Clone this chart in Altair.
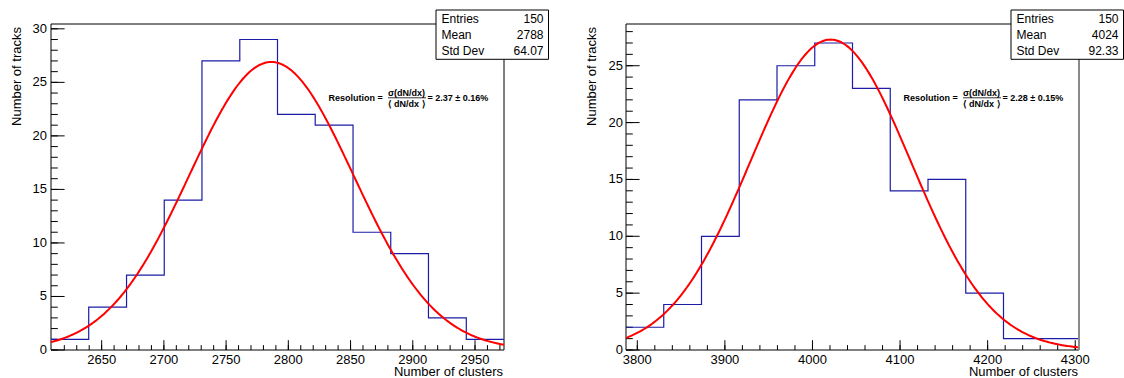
import altair as alt
import numpy as np
import pandas as pd

# ---------------- data ----------------
# Left panel
left_edges = [2609.3, 2639.6, 2670.0, 2700.3, 2730.6, 2761.0, 2791.3,
              2821.6, 2852.0, 2882.3, 2912.6, 2943.0, 2973.3]
left_counts = [1, 4, 7, 14, 27, 29, 22, 21, 11, 9, 3, 1]
left_fit = {"constant": 26.9, "mean": 2786.4, "sigma": 66.0}
left_ymax = 30.45
left_stats = [("Entries", "150"), ("Mean", "2788"), ("Std Dev", "64.07")]
left_result = "= 2.37 \u00b1 0.16%"
left_x_major = [2650, 2700, 2750, 2800, 2850, 2900, 2950]
left_x_minor = list(range(2620, 2980, 10))
left_y_major = [0, 5, 10, 15, 20, 25, 30]
left_y_minor = list(range(0, 31))

# Right panel
right_edges = [3787.1, 3830.2, 3873.3, 3916.4, 3959.5, 4002.6, 4045.7,
               4088.8, 4131.9, 4175.0, 4218.1, 4261.2, 4304.3]
right_counts = [2, 4, 10, 22, 25, 27, 23, 14, 15, 5, 1, 1]
right_fit = {"constant": 27.3, "mean": 4020.7, "sigma": 91.7}
right_ymax = 28.67
right_stats = [("Entries", "150"), ("Mean", "4024"), ("Std Dev", "92.33")]
right_result = "= 2.28 \u00b1 0.15%"
right_x_major = [3800, 3900, 4000, 4100, 4200, 4300]
right_x_minor = list(range(3800, 4310, 20))
right_y_major = [0, 5, 10, 15, 20, 25]
right_y_minor = list(range(0, 29))

x_title = "Number of clusters"
y_title = "Number of tracks"

FONT = "Liberation Sans"
PW = 453      # panel plot width
PH = 326      # panel plot height
GAP = 122     # gap between panels
HIST_COLOR = "#1c1ca8"
FIT_COLOR = "#ff0000"

one = pd.DataFrame({"d": [0]})


def txt(text, x, y, align="left", size=12, weight="normal", angle=0):
    return alt.Chart(one).mark_text(text=text, align=align, baseline="middle",
                                    font=FONT, fontSize=size, fontWeight=weight,
                                    angle=angle, color="black").encode(
        x=alt.value(x), y=alt.value(y))


def panel(edges, counts, fit, ymax, stats, result, x_major, x_minor,
          y_major, y_minor, off, ylab_pad, gray_right):
    xs = alt.Scale(domain=[edges[0], edges[-1]], range=[off, off + PW],
                   nice=False, zero=False)
    ys = alt.Scale(domain=[0, ymax], nice=False, zero=False)

    # histogram outline (step)
    hist_df = pd.DataFrame({"x": list(edges), "y": list(counts) + [counts[-1]]})

    # gaussian fit function
    gx = np.linspace(edges[0], edges[-1], 300)
    gy = fit["constant"] * np.exp(-0.5 * ((gx - fit["mean"]) / fit["sigma"]) ** 2)
    fit_df = pd.DataFrame({"x": gx, "y": gy})

    frame = alt.Chart(one).mark_rect(fill=None, stroke="black", strokeWidth=1).encode(
        x=alt.value(off), x2=alt.value(off + PW), y=alt.value(0), y2=alt.value(PH))

    hist = alt.Chart(hist_df).mark_line(interpolate="step-after", color=HIST_COLOR,
                                        strokeWidth=1.2).encode(
        x=alt.X("x:Q", scale=xs, axis=None),
        y=alt.Y("y:Q", scale=ys, axis=None))

    fitl = alt.Chart(fit_df).mark_line(color=FIT_COLOR, strokeWidth=2).encode(
        x=alt.X("x:Q", scale=xs, axis=None),
        y=alt.Y("y:Q", scale=ys, axis=None))

    xmaj = alt.Chart(pd.DataFrame({"t": x_major})).mark_rule(color="black").encode(
        x=alt.X("t:Q", scale=xs, axis=None), y=alt.value(PH), y2=alt.value(PH - 9.8))
    xmin = alt.Chart(pd.DataFrame({"t": x_minor})).mark_rule(color="black").encode(
        x=alt.X("t:Q", scale=xs, axis=None), y=alt.value(PH), y2=alt.value(PH - 4.9))
    ymaj = alt.Chart(pd.DataFrame({"t": y_major})).mark_rule(color="black").encode(
        y=alt.Y("t:Q", scale=ys, axis=None), x=alt.value(off), x2=alt.value(off + 13.6))
    ymin = alt.Chart(pd.DataFrame({"t": y_minor})).mark_rule(color="black").encode(
        y=alt.Y("t:Q", scale=ys, axis=None), x=alt.value(off), x2=alt.value(off + 6.8))

    # tick labels
    xlab = alt.Chart(pd.DataFrame({"t": x_major, "s": [str(v) for v in x_major]})
                     ).mark_text(baseline="middle", align="center", font=FONT,
                                 fontSize=13, color="black").encode(
        x=alt.X("t:Q", scale=xs, axis=None), y=alt.value(PH + 9.5), text="s:N")
    ylab = alt.Chart(pd.DataFrame({"t": y_major, "s": [str(v) for v in y_major]})
                     ).mark_text(baseline="middle", align="right", font=FONT,
                                 fontSize=13, color="black").encode(
        y=alt.Y("t:Q", scale=ys, axis=None), x=alt.value(off - ylab_pad), text="s:N")

    layers = [frame, xmin, xmaj, ymin, ymaj, hist, fitl, xlab, ylab,
              txt(x_title, off + PW - 1, PH + 22.2, align="right", size=13),
              txt(y_title, off - 34, 3, align="right", size=13, angle=270)]

    if gray_right:
        layers.append(alt.Chart(one).mark_rule(color="#8a8a8a", strokeWidth=2).encode(
            x=alt.value(off + PW), y=alt.value(0), y2=alt.value(PH)))

    # statistics box
    bx0, bx1 = off + 385, off + 497.5
    layers.append(alt.Chart(one).mark_rect(fill="white", stroke="black",
                                           strokeWidth=1).encode(
        x=alt.value(bx0), x2=alt.value(bx1), y=alt.value(-14), y2=alt.value(35.3)))
    rows_y = [-5, 10.7, 27.3]
    for (name, val), ry in zip(stats, rows_y):
        layers.append(txt(name, off + 390.5, ry, align="left", size=12))
        layers.append(txt(val, off + 492.5, ry, align="right", size=12))

    # resolution annotation
    layers.append(txt("Resolution =", off + 331.7, 73.5, align="right", size=9,
                      weight="bold"))
    layers.append(txt("\u03c3(dN/dx)", off + 355.5, 69, align="center", size=9,
                      weight="bold"))
    layers.append(alt.Chart(one).mark_rule(color="black", strokeWidth=0.8).encode(
        x=alt.value(off + 337), x2=alt.value(off + 375), y=alt.value(73.8)))
    layers.append(txt("\u27e8 dN/dx \u27e9", off + 355.5, 79.8, align="center",
                      size=9, weight="bold"))
    layers.append(txt(result, off + 376.5, 73.5, align="left", size=9,
                      weight="bold"))

    return alt.layer(*layers)


left = panel(left_edges, left_counts, left_fit, left_ymax, left_stats, left_result,
             left_x_major, left_x_minor, left_y_major, left_y_minor, 0, 4, False)
right = panel(right_edges, right_counts, right_fit, right_ymax, right_stats,
              right_result, right_x_major, right_x_minor, right_y_major,
              right_y_minor, PW + GAP, 3, True)

chart = alt.layer(left, right).resolve_scale(
    x="independent", y="independent"
).properties(
    width=PW * 2 + GAP, height=PH,
    autosize=alt.AutoSizeParams(type="none"),
    padding={"left": 51, "top": 24, "right": 45, "bottom": 28},
).configure(background="white").configure_view(stroke=None)

chart.save("out.html", embed_options={"renderer": "svg", "actions": False})
